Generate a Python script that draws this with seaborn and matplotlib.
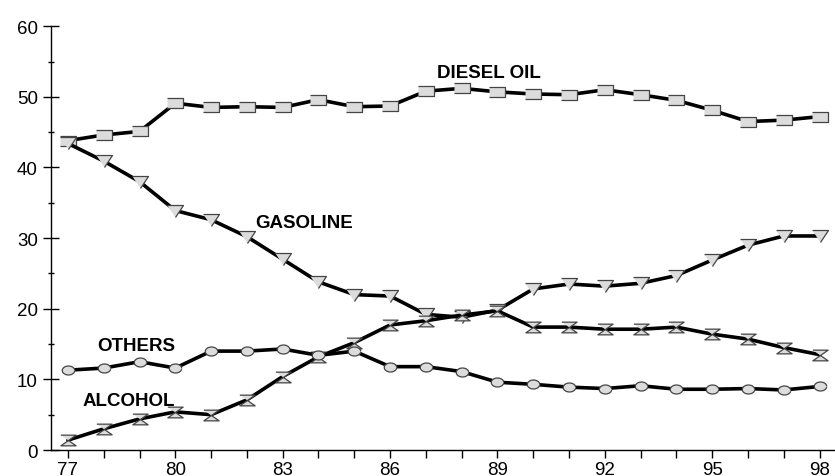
import numpy as np
import pandas as pd
import matplotlib
matplotlib.use("Agg")
import matplotlib.pyplot as plt
from matplotlib.ticker import MultipleLocator
import seaborn as sns

# fuel consumption shares (%)
years = list(range(77, 99))
diesel = [43.8, 44.6, 45.1, 49.1, 48.5, 48.6, 48.5, 49.6, 48.6, 48.7, 50.8,
          51.2, 50.7, 50.4, 50.3, 51.0, 50.3, 49.5, 48.1, 46.5, 46.7, 47.2]
gasoline = [43.4, 40.9, 38.0, 33.9, 32.6, 30.2, 27.0, 23.8, 22.0, 21.8, 19.2,
            18.8, 19.8, 22.8, 23.5, 23.2, 23.6, 24.7, 26.9, 29.0, 30.3, 30.3]
alcohol = [1.4, 3.0, 4.4, 5.4, 5.0, 7.1, 10.4, 13.2, 15.2, 17.7, 18.3,
           19.1, 19.7, 17.4, 17.4, 17.1, 17.1, 17.4, 16.4, 15.7, 14.5, 13.5]
others = [11.3, 11.6, 12.5, 11.6, 14.0, 14.0, 14.3, 13.4, 14.0, 11.8, 11.8,
          11.1, 9.6, 9.3, 8.9, 8.7, 9.1, 8.6, 8.6, 8.7, 8.5, 9.0]

# label text and where it sits
labels = ["DIESEL OIL", "GASOLINE", "OTHERS", "ALCOHOL"]
label_x = [88.75, 83.6, 78.9, 78.7]
label_y = [53.5, 32.2, 14.75, 7.0]

df = pd.DataFrame({"year": years, "diesel": diesel, "gasoline": gasoline,
                   "alcohol": alcohol, "others": others})

# squashed marker shapes (wider than tall, like the original)
rect = [(-1, -0.6), (1, -0.6), (1, 0.6), (-1, 0.6)]
tri = [(-1, 0.75), (1, 0.75), (0, -0.75)]
hourglass = [(-1, 0.7), (1, 0.7), (0, 0), (1, -0.7), (-1, -0.7), (0, 0)]
t = np.linspace(0, 2 * np.pi, 40, endpoint=False)
ellipse = list(zip(np.cos(t), 0.72 * np.sin(t)))

sns.set_style("ticks")
plt.rcParams["font.family"] = ["Liberation Sans", "DejaVu Sans"]
plt.rcParams["text.color"] = "black"
plt.rcParams["xtick.color"] = "black"
plt.rcParams["ytick.color"] = "black"

fig = plt.figure(figsize=(8.35, 4.77), dpi=100)
ax = fig.add_axes([0.061, 0.0545, 0.939, 0.8885])

series = [("diesel", rect, 11.5), ("gasoline", tri, 11.5),
          ("alcohol", hourglass, 11.0), ("others", ellipse, 9.0)]
for col, mk, ms in series:
    sns.lineplot(data=df, x="year", y=col, ax=ax, color="black", lw=2.6,
                 marker=mk, markersize=ms, markerfacecolor="#dcdcdc",
                 markeredgecolor="#444444", markeredgewidth=0.9)

for txt, x, y in zip(labels, label_x, label_y):
    ax.text(x, y, txt, ha="center", va="center", fontsize=13.5,
            fontweight="bold")

ax.set_xlim(76.525, 98.43)
ax.set_ylim(0, 60)
ax.set_xlabel("")
ax.set_ylabel("")
ax.set_xticks(years[::3])
ax.xaxis.set_minor_locator(MultipleLocator(1))
ax.yaxis.set_major_locator(MultipleLocator(10))
ax.yaxis.set_minor_locator(MultipleLocator(5))
ax.tick_params(axis="y", which="major", direction="inout", length=11,
               width=1, labelsize=13.5, pad=4)
ax.tick_params(axis="y", which="minor", direction="inout", length=4.5, width=1)
ax.tick_params(axis="x", which="both", direction="out", length=6, width=1,
               labelsize=13.5, pad=2)
sns.despine(ax=ax)
for s in ["left", "bottom"]:
    ax.spines[s].set_linewidth(1)
    ax.spines[s].set_color("black")

fig.savefig("out.png", dpi=100)
